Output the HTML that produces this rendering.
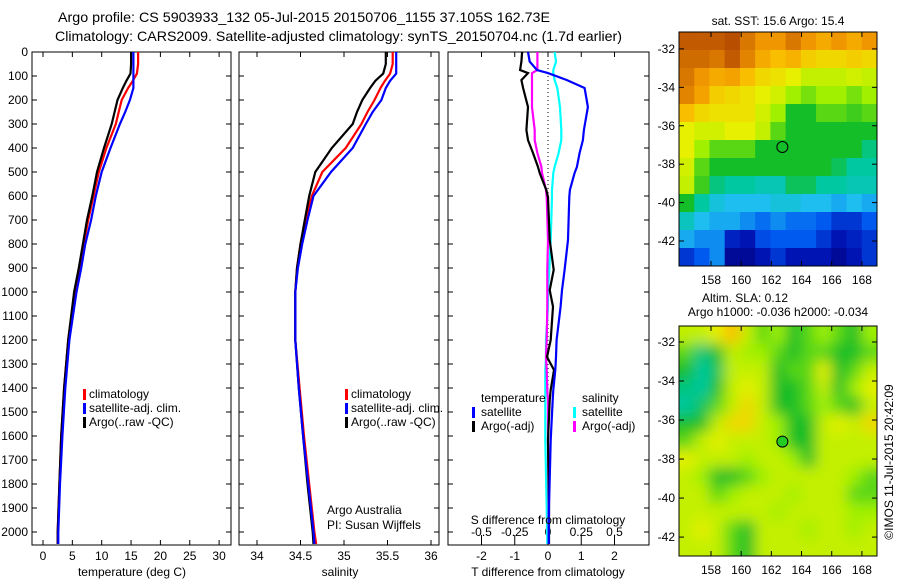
<!DOCTYPE html>
<html><head><meta charset="utf-8">
<style>
body{margin:0;background:#fff;}
svg{display:block;font-family:"Liberation Sans",sans-serif;}
text{fill:#000;}
</style></head>
<body>
<svg id="c" width="900" height="580" viewBox="0 0 900 580">
<defs>
<clipPath id="clipTop"><rect x="679" y="32" width="198" height="234"/></clipPath>
<clipPath id="clipBot"><rect x="679" y="326" width="198" height="230"/></clipPath>
<filter id="blur" x="-20%" y="-20%" width="140%" height="140%"><feGaussianBlur stdDeviation="7"/></filter>
</defs>
<text x="58" y="22" font-size="14" textLength="492" lengthAdjust="spacingAndGlyphs">Argo profile: CS 5903933_132 05-Jul-2015 20150706_1155 37.105S 162.73E</text>
<text x="55" y="41" font-size="14" textLength="567" lengthAdjust="spacingAndGlyphs">Climatology: CARS2009. Satellite-adjusted climatology: synTS_20150704.nc (1.7d earlier)</text>
<g id="g"></g>
<text transform="translate(893,462) rotate(-90)" font-size="12" text-anchor="middle">©IMOS 11-Jul-2015 20:42:09</text>
</svg>
<script>
// ---- profile data ----
const depths=[0,50,90,120,150,200,250,300,400,500,600,700,800,900,1000,1200,1400,1600,1800,2000,2050];
const argoT=[15,15,14.9,14.2,13.6,12.7,12.2,11.7,10.4,9.2,8.4,7.5,6.8,6.1,5.3,4.3,3.6,3.1,2.8,2.5,2.5];
const climT=[16.2,16.2,16,15.3,14.5,13.4,12.9,12.4,10.8,9.5,8.6,7.7,6.9,6.2,5.4,4.3,3.6,3.1,2.8,2.5,2.5];
const satT=[15.4,15.4,15.4,15.4,15.4,14.8,14.0,13.1,11.5,10,9,8.2,7.2,6.5,5.7,4.5,3.8,3.3,2.9,2.6,2.6];
const argoS=[35.48,35.48,35.45,35.36,35.3,35.21,35.15,35.1,34.86,34.67,34.6,34.55,34.5,34.46,34.44,34.44,34.48,34.53,34.58,34.64,34.65];
const climS=[35.56,35.56,35.53,35.47,35.42,35.35,35.27,35.2,35.02,34.75,34.63,34.56,34.5,34.46,34.44,34.44,34.49,34.54,34.6,34.66,34.68];
const satS=[35.6,35.6,35.6,35.53,35.48,35.43,35.33,35.25,35.1,34.85,34.65,34.58,34.52,34.47,34.44,34.44,34.48,34.53,34.59,34.65,34.66];
// difference panel
const dDepths=[0,40,75,88,117,150,229,325,367,421,479,504,575,604,783,908,992,1061,1200,1271,1325,1408,1450,1617,1896,2050];
const satDT=[-0.6,-0.55,-0.33,0,0.57,1.1,1.2,1.08,1.05,0.95,0.87,0.8,0.66,0.64,0.6,0.5,0.42,0.38,0.26,0.24,0.22,0.16,0.14,0.08,0.03,0.02];
const argoDT=[-0.78,-0.8,-0.84,-0.6,-0.8,-0.75,-0.6,-0.65,-0.6,-0.45,-0.3,-0.25,-0.05,0,0.05,0.17,0.05,0.15,0.08,-0.03,0.18,0.08,0.05,0,0.03,0.03];
const satDS=[0.05,0.06,0.04,0.04,0.05,0.07,0.09,0.1,0.1,0.08,0.05,0.04,0.03,0.03,0.02,0.01,0,0,-0.015,-0.015,-0.02,-0.02,-0.02,-0.02,-0.01,-0.005];
const argoDS=[-0.08,-0.08,-0.08,-0.12,-0.12,-0.12,-0.12,-0.1,-0.1,-0.08,-0.05,-0.045,-0.015,-0.01,0,-0.005,-0.005,-0.005,-0.01,-0.015,-0.01,-0.005,0,0,0.005,0.005];
// tick labels
const depthTicks=[0,100,200,300,400,500,600,700,800,900,1000,1100,1200,1300,1400,1500,1600,1700,1800,1900,2000];
const tTicks=[0,5,10,15,20,25,30];
const sTicks=[34,34.5,35,35.5,36];
const dTTicks=[-2,-1,0,1,2];
const dSTicks=[-0.5,-0.25,0,0.25,0.5];
const lonTicks=[158,160,162,164,166,168];
const latTicks=[-32,-34,-36,-38,-40,-42];
// maps (rows from north to south, cols west to east), colour index 0..1
const sstGrid=[
[0.95,0.95,0.95,0.97,0.9,0.85,0.85,0.9,0.85,0.8,0.85,0.8,0.85],
[0.92,0.92,0.9,0.95,0.88,0.8,0.75,0.78,0.72,0.7,0.7,0.72,0.7],
[0.9,0.85,0.8,0.82,0.75,0.7,0.68,0.65,0.6,0.6,0.6,0.62,0.6],
[0.88,0.82,0.72,0.7,0.68,0.65,0.62,0.55,0.52,0.55,0.55,0.52,0.55],
[0.75,0.7,0.68,0.68,0.68,0.62,0.55,0.45,0.45,0.5,0.5,0.48,0.5],
[0.65,0.62,0.62,0.65,0.65,0.6,0.5,0.45,0.45,0.45,0.45,0.45,0.45],
[0.65,0.55,0.5,0.5,0.5,0.45,0.45,0.45,0.45,0.45,0.45,0.45,0.4],
[0.62,0.5,0.45,0.45,0.45,0.45,0.45,0.45,0.45,0.45,0.42,0.38,0.38],
[0.6,0.48,0.4,0.38,0.38,0.36,0.36,0.42,0.42,0.38,0.38,0.36,0.36],
[0.45,0.38,0.32,0.3,0.3,0.3,0.32,0.32,0.3,0.3,0.28,0.3,0.28],
[0.35,0.3,0.28,0.28,0.25,0.22,0.25,0.22,0.22,0.2,0.15,0.15,0.2],
[0.28,0.25,0.25,0.12,0.1,0.18,0.2,0.2,0.2,0.15,0.1,0.12,0.15],
[0.15,0.2,0.25,0.05,0.05,0.1,0.15,0.1,0.1,0.1,0.05,0.1,0.15]];
const slaGrid=[
[0.6,0.6,0.65,0.75,0.6,0.5,0.55,0.45,0.5,0.55,0.5,0.45,0.55],
[0.5,0.4,0.45,0.6,0.55,0.55,0.5,0.45,0.5,0.5,0.45,0.45,0.5],
[0.45,0.38,0.42,0.6,0.6,0.6,0.45,0.5,0.5,0.65,0.45,0.5,0.6],
[0.4,0.38,0.45,0.6,0.65,0.6,0.45,0.45,0.5,0.6,0.45,0.55,0.65],
[0.38,0.42,0.5,0.6,0.7,0.6,0.45,0.45,0.5,0.55,0.5,0.45,0.6],
[0.45,0.45,0.6,0.7,0.7,0.6,0.55,0.45,0.45,0.6,0.65,0.6,0.7],
[0.5,0.6,0.65,0.6,0.6,0.6,0.55,0.45,0.45,0.6,0.6,0.6,0.6],
[0.65,0.6,0.6,0.6,0.55,0.6,0.6,0.55,0.45,0.6,0.6,0.6,0.6],
[0.6,0.55,0.45,0.45,0.5,0.55,0.6,0.6,0.6,0.6,0.6,0.55,0.5],
[0.6,0.6,0.5,0.55,0.6,0.6,0.6,0.55,0.6,0.6,0.6,0.5,0.5],
[0.6,0.6,0.6,0.6,0.6,0.6,0.55,0.6,0.6,0.6,0.6,0.55,0.55],
[0.6,0.65,0.6,0.5,0.45,0.6,0.6,0.6,0.55,0.6,0.6,0.55,0.6],
[0.6,0.6,0.6,0.5,0.45,0.6,0.6,0.6,0.6,0.6,0.6,0.6,0.6]];

const NS='http://www.w3.org/2000/svg';
const G=document.getElementById('g');
function el(tag,attrs,parent){const e=document.createElementNS(NS,tag);for(const k in attrs)e.setAttribute(k,attrs[k]);(parent||G).appendChild(e);return e;}
function txt(x,y,s,size,anchor,parent){const t=el('text',{x:x,y:y,'font-size':size,'text-anchor':anchor||'start'},parent);t.textContent=s;return t;}
const TOP=52,BOT=545;
const yD=d=>TOP+0.24*d;
const xT=v=>43+5.87*v;
const xS=v=>257+87*(v-34);
const xdT=v=>548+33.25*v;
const xdS=v=>548+133*v;
function box(x0,x1,name){const r=el('rect',{x:x0,y:TOP,width:x1-x0,height:BOT-TOP,fill:'none',stroke:'#000','stroke-width':1});
 depthTicks.forEach(d=>{el('line',{x1:x0,x2:x0+5,y1:yD(d),y2:yD(d),stroke:'#000'});el('line',{x1:x1,x2:x1-5,y1:yD(d),y2:yD(d),stroke:'#000'});});}
function stepLine(xs,ys,xf,color,name){let p='';for(let i=0;i<ys.length;i++){const x=xf(xs[i]).toFixed(1),y=yD(ys[i]).toFixed(1);p+=(i?'L':'M')+x+' '+y;}
 const e=el('path',{d:p,fill:'none',stroke:color,'stroke-width':2.2});}
depthTicks.forEach(d=>{const t=txt(28,yD(d)+4,String(d),12,'end');});
// panel 1
box(32,231,'temperature-panel');
tTicks.forEach(v=>{el('line',{x1:xT(v),x2:xT(v),y1:BOT,y2:BOT-5,stroke:'#000'});el('line',{x1:xT(v),x2:xT(v),y1:TOP,y2:TOP+5,stroke:'#000'});const t=txt(xT(v),560,String(v),12,'middle');});
stepLine(climT,depths,xT,'#f00','clim-temperature-line');
stepLine(argoT,depths,xT,'#000','argo-temperature-line');
stepLine(satT,depths,xT,'#00f','sat-temperature-line');
let t=txt(132,576,'temperature (deg C)',12,'middle');
// panel 2
box(239,439,'salinity-panel');
sTicks.forEach(v=>{el('line',{x1:xS(v),x2:xS(v),y1:BOT,y2:BOT-5,stroke:'#000'});el('line',{x1:xS(v),x2:xS(v),y1:TOP,y2:TOP+5,stroke:'#000'});const t=txt(xS(v),560,String(v),12,'middle');});
stepLine(climS,depths,xS,'#f00','clim-salinity-line');
stepLine(argoS,depths,xS,'#000','argo-salinity-line');
stepLine(satS,depths,xS,'#00f','sat-salinity-line');
t=txt(340,576,'salinity',12,'middle');
t=txt(327,514,'Argo Australia',12);
t=txt(327,529,'PI: Susan Wijffels',12);
[[88,'temperature'],[350,'salinity']].forEach(([lx,nm])=>{
 [['#f00','climatology'],['#00f','satellite-adj. clim.'],['#000','Argo(..raw -QC)']].forEach(([c,s],i)=>{
  const y=398+i*14;el('rect',{x:lx-5,y:y-9,width:3,height:11,fill:c});const tt=txt(lx+1,y,s,12);});});
// panel 3
box(448,649,'difference-panel');
el('line',{x1:548,x2:548,y1:TOP,y2:BOT,stroke:'#000','stroke-dasharray':'1,3'});
dTTicks.forEach(v=>{el('line',{x1:xdT(v),x2:xdT(v),y1:BOT,y2:BOT-5,stroke:'#000'});el('line',{x1:xdT(v),x2:xdT(v),y1:TOP,y2:TOP+5,stroke:'#000'});const t=txt(xdT(v),560,String(v),12,'middle');});
dSTicks.forEach(v=>{el('line',{x1:xdS(v),x2:xdS(v),y1:BOT-10,y2:BOT-5,stroke:'#000'});const t=txt(xdS(v),536,String(v),12,'middle');});
stepLine(satDS,dDepths,xdS,'#0ff','sat-salinity-diff-line');
stepLine(argoDS,dDepths,xdS,'#f0f','argo-salinity-diff-line');
stepLine(argoDT,dDepths,xdT,'#000','argo-temperature-diff-line');
stepLine(satDT,dDepths,xdT,'#00f','sat-temperature-diff-line');
t=txt(548,524,'S difference from climatology',12,'middle');
t=txt(548,576,'T difference from climatology',12,'middle');
t=txt(481,402,'temperature',12);
t=txt(582,402,'salinity',12);
[[473,'#00f','satellite',0],[473,'#000','Argo(-adj)',1],[574,'#0ff','satellite',0],[574,'#f0f','Argo(-adj)',1]].forEach(([lx,c,s,i])=>{
 const y=416+i*14;el('rect',{x:lx-1,y:y-9,width:3,height:11,fill:c});const tt=txt(lx+8,y,s,12);});
// colormap matching reference palette
const cmapStops=[[0,[0,0,120]],[0.1,[0,20,180]],[0.2,[0,90,240]],[0.3,[30,190,240]],[0.38,[0,200,160]],[0.45,[20,190,40]],[0.55,[160,240,0]],[0.65,[230,240,0]],[0.75,[250,190,0]],[0.85,[240,150,0]],[1,[170,60,0]]];
function cmap(v){for(let i=1;i<cmapStops.length;i++){const [a,ca]=cmapStops[i-1],[b,cb]=cmapStops[i];if(v<=b){const f=(v-a)/(b-a);return 'rgb('+ca.map((c,k)=>Math.round(c+(cb[k]-c)*f)).join(',')+')';}}return 'rgb(170,60,0)';}
function map(grid,y0,y1,latTop,latBot,clip,blur,name){
 const lonL=155.88,lonR=169.0;const xL=lon=>679+(lon-lonL)*198/(lonR-lonL);const yL=lat=>y0+(latTop-lat)*(y1-y0)/(latTop-latBot);
 const g=el('g',{'clip-path':'url(#'+clip+')'});
 const gi=el('g',blur?{filter:'url(#blur)'}:{},g);
 if(blur)el('rect',{x:660,y:y0-20,width:240,height:y1-y0+40,fill:cmap(0.6)},gi);
 const nr=grid.length,nc=grid[0].length,cw=198/nc,ch=(y1-y0)/nr;
 grid.forEach((row,r)=>row.forEach((v,c)=>{
  const cell=el('rect',{x:679+c*cw-(blur&&c==0?20:0),y:y0+r*ch-(blur&&r==0?20:0),width:cw+0.6+(blur&&(c==0||c==nc-1)?20:0),height:ch+0.6+(blur&&(r==0||r==nr-1)?20:0),fill:cmap(v)},gi);
  
  }));
 el('rect',{x:679,y:y0,width:198,height:y1-y0,fill:'none',stroke:'#000'});
 const c=el('circle',{cx:xL(162.73),cy:yL(-37.105),r:5.5,fill:blur?'#2c2':'none',stroke:'#000'});
 lonTicks.forEach(v=>{el('line',{x1:xL(v),x2:xL(v),y1:y1,y2:y1-5,stroke:'#000'});el('line',{x1:xL(v),x2:xL(v),y1:y0,y2:y0+5,stroke:'#000'});const tt=txt(xL(v),y1+18,String(v),12,'middle');});
 latTicks.forEach(v=>{el('line',{x1:679,x2:684,y1:yL(v),y2:yL(v),stroke:'#000'});el('line',{x1:877,x2:872,y1:yL(v),y2:yL(v),stroke:'#000'});const tt=txt(675,yL(v)+4,String(v),12,'end');});
}
map(sstGrid,32,266,-31.12,-43.3,'clipTop',false,'sst-map');
map(slaGrid,326,556,-31.18,-42.97,'clipBot',true,'sla-map');
t=txt(778,25,'sat. SST: 15.6 Argo: 15.4',12,'middle');
t=txt(745,302,'Altim. SLA: 0.12',12,'middle');
t=txt(778,316,'Argo h1000: -0.036 h2000: -0.034',12,'middle');
</script>
</body></html>
